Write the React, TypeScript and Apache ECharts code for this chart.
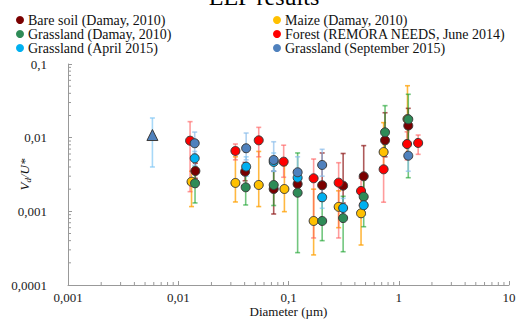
import React, { useEffect, useRef } from "react";
import * as echarts from "echarts";

const FONT = "Liberation Serif, Times New Roman, serif";

// [diameter (µm), Vd/U*, lower error, upper error]
const bareSoil = [
  [0.0143, 0.00353, 0.0028, 0.0045],
  [0.0404, 0.00345, 0.0026, 0.0046],
  [0.0734, 0.00201, 0.00092, 0.0035],
  [0.121, 0.00235, 0.0017, 0.0032],
  [0.202, 0.00226, 0.0016, 0.0062],
  [0.313, 0.00223, 0.0013, 0.0061],
  [0.481, 0.00299, 0.0016, 0.0078],
  [0.751, 0.0092, 0.0055, 0.0218],
  [1.22, 0.01456, 0.008, 0.025],
];
const maize = [
  [0.0132, 0.00252, 0.00116, 0.0035],
  [0.033, 0.00243, 0.00134, 0.0055],
  [0.0537, 0.00228, 0.00116, 0.0065],
  [0.0918, 0.00201, 0.00099, 0.0042],
  [0.169, 0.00074, 0.000256, 0.002],
  [0.285, 0.00115, 0.0006, 0.0019],
  [0.455, 0.00094, 0.000349, 0.0018],
  [0.729, 0.00638, 0.0035, 0.016],
  [1.2, 0.0179, 0.006, 0.0507],
];
const grasslandDamay = [
  [0.0142, 0.0024, 0.0013, 0.004],
  [0.0409, 0.00212, 0.00122, 0.0032],
  [0.0734, 0.00228, 0.0012, 0.0045],
  [0.121, 0.00179, 0.000275, 0.0062],
  [0.202, 0.00074, 0.0004, 0.0014],
  [0.313, 0.00081, 0.000283, 0.0016],
  [0.481, 0.00158, 0.000618, 0.0032],
  [0.751, 0.01183, 0.0065, 0.0272],
  [1.22, 0.01774, 0.00286, 0.0388],
];
const forest = [
  [0.0128, 0.0091, 0.00185, 0.0165],
  [0.033, 0.0066, 0.005, 0.0082],
  [0.0537, 0.0092, 0.0055, 0.0138],
  [0.0904, 0.00472, 0.0029, 0.0079],
  [0.169, 0.00281, 0.000435, 0.00513],
  [0.285, 0.00245, 0.000435, 0.00457],
  [0.455, 0.00189, 0.0012, 0.0028],
  [0.729, 0.00372, 0.00133, 0.0062],
  [1.19, 0.0082, 0.005, 0.012],
  [1.5, 0.00848, 0.00594, 0.01086],
];
const grasslandApril = [
  [0.0141, 0.00525, 0.0042, 0.0065],
  [0.0413, 0.00404, 0.003, 0.0055],
  [0.0734, 0.00468, 0.0035, 0.0062],
  [0.121, 0.00286, 0.0022, 0.0038],
  [0.202, 0.00155, 0.0011, 0.0022],
  [0.313, 0.00111, 0.0008, 0.0015],
  [0.481, 0.00121, 0.0009, 0.0016],
];
const grasslandSept = [
  [0.0141, 0.0084, 0.006, 0.0119],
  [0.0413, 0.00718, 0.005, 0.01156],
  [0.0734, 0.00498, 0.0035, 0.0088],
  [0.121, 0.00339, 0.0025, 0.0055],
  [0.202, 0.00426, 0.003, 0.00695],
  [1.22, 0.00569, 0.0035, 0.008],
];
const triangleGrassland = [[0.00583, 0.01086, 0.004, 0.0185]];

const xMin = 0.001;
const xMax = 10;
const yMin = 0.0001;
const yMax = 0.1;

const seriesDefs = [
  { name: "Maize (Damay, 2010)", data: maize, color: "#ffc000", err: "rgba(255,160,0,0.75)", symbol: "circle" },
  { name: "Bare soil (Damay, 2010)", data: bareSoil, color: "#7a0000", err: "rgba(140,20,20,0.7)", symbol: "circle" },
  { name: "Forest (REMORA NEEDS, June 2014)", data: forest, color: "#ff0000", err: "rgba(255,90,90,0.6)", symbol: "circle" },
  { name: "Grassland (Damay, 2010)", data: grasslandDamay, color: "#2e8b57", err: "rgba(20,160,40,0.6)", symbol: "circle" },
  { name: "Grassland (April 2015)", data: grasslandApril, color: "#00b0f0", err: "rgba(110,190,240,0.6)", symbol: "circle" },
  { name: "Grassland (September 2015)", data: grasslandSept, color: "#4f81bd", err: "rgba(140,190,235,0.7)", symbol: "circle" },
  { name: "Grassland (triangle)", data: triangleGrassland, color: "#4f81bd", err: "rgba(130,200,245,0.7)", symbol: "triangle" },
];

const legendLeft = ["Bare soil (Damay, 2010)", "Grassland (Damay, 2010)", "Grassland (April 2015)"];
const legendRight = ["Maize (Damay, 2010)", "Forest (REMORA NEEDS, June 2014)", "Grassland (September 2015)"];

const xTickLabels = ["0,001", "0,01", "0,1", "1", "10"];
const yTickLabels = ["0,0001", "0,001", "0,01", "0,1"];

const minorX: number[][] = [];
for (let e = -3; e < 1; e++) for (let k = 2; k <= 9; k++) minorX.push([k * Math.pow(10, e), yMin]);
const minorY: number[][] = [];
for (let e = -4; e < -1; e++) for (let k = 2; k <= 9; k++) minorY.push([xMin, k * Math.pow(10, e)]);

function fmt(v: number, labels: string[], min: number) {
  const i = Math.round(Math.log10(v) - Math.log10(min));
  return labels[i] ?? String(v).replace(".", ",");
}

export default function App() {
  const ref = useRef<HTMLDivElement>(null);
  useEffect(() => {
    if (!ref.current) return;
    const chart = echarts.init(ref.current, undefined, { renderer: "svg" });
    const series: any[] = [];
    seriesDefs.forEach((s) => {
      series.push({
        type: "custom",
        name: "err " + s.name,
        z: 1,
        clip: false,
        encode: { x: 0, y: [1, 2] },
        data: s.data.map((d) => [d[0], d[2], d[3]]),
        renderItem: (params: any, api: any) => {
          const x = api.value(0);
          const lo = api.coord([x, api.value(1)]);
          const hi = api.coord([x, api.value(2)]);
          const w = 2.5;
          const st = { stroke: s.err, lineWidth: 1.6 };
          return {
            type: "group",
            children: [
              { type: "line", shape: { x1: lo[0], y1: lo[1], x2: hi[0], y2: hi[1] }, style: st },
              { type: "line", shape: { x1: lo[0] - w, y1: lo[1], x2: lo[0] + w, y2: lo[1] }, style: st },
              { type: "line", shape: { x1: hi[0] - w, y1: hi[1], x2: hi[0] + w, y2: hi[1] }, style: st },
            ],
          };
        },
      });
    });
    seriesDefs.forEach((s) => {
      series.push({
        type: "scatter",
        name: s.name,
        z: 3,
        symbol: s.symbol,
        symbolSize: s.symbol === "triangle" ? 11 : 9,
        itemStyle: { color: s.color, borderColor: "#3a3a3a", borderWidth: 1, opacity: 1 },
        data: s.data.map((d) => [d[0], d[1]]),
      });
    });
    const tickStyle = { color: "#999", width: 1 };
    series.push({
      type: "custom",
      name: "minorX",
      z: 2,
      clip: false,
      data: minorX,
      renderItem: (params: any, api: any) => {
        const p = api.coord([api.value(0), api.value(1)]);
        return { type: "line", shape: { x1: p[0], y1: p[1], x2: p[0], y2: p[1] - 3 }, style: { stroke: "#999", lineWidth: 1 } };
      },
    });
    series.push({
      type: "custom",
      name: "minorY",
      z: 2,
      clip: false,
      data: minorY,
      renderItem: (params: any, api: any) => {
        const p = api.coord([api.value(0), api.value(1)]);
        return { type: "line", shape: { x1: p[0], y1: p[1], x2: p[0] + 3, y2: p[1] }, style: { stroke: "#999", lineWidth: 1 } };
      },
    });

    const legendBase = {
      orient: "vertical",
      top: 13,
      itemWidth: 8,
      itemHeight: 8,
      itemGap: 0,
      icon: "circle",
      itemStyle: { borderWidth: 0 },
      textStyle: { fontFamily: FONT, fontSize: 14, color: "#111", lineHeight: 14, padding: [0, 0, 0, -1] },
      padding: 0,
    };

    chart.setOption({
      animation: false,
      backgroundColor: "#fff",
      graphic: [
        {
          type: "text",
          x: 264,
          y: 9,
          style: { text: "EEP results", font: `24px ${FONT}`, fill: "#000", align: "center", verticalAlign: "bottom" },
        },
      ],
      legend: [
        { ...legendBase, left: 16, data: legendLeft },
        { ...legendBase, left: 273, data: legendRight },
      ],
      grid: { left: 68, right: 7, top: 64, bottom: 35, containLabel: false, outerBoundsMode: "none" },
      xAxis: {
        type: "log",
        logBase: 10,
        min: xMin,
        max: xMax,
        name: "Diameter (µm)",
        nameLocation: "middle",
        nameGap: 20,
        nameMoveOverlap: false,
        nameTextStyle: { fontFamily: FONT, fontSize: 13, color: "#111" },
        axisLine: { lineStyle: tickStyle },
        axisTick: { inside: true, length: 4, lineStyle: tickStyle },
        splitLine: { show: false },
        axisLabel: {
          fontFamily: FONT,
          fontSize: 13,
          color: "#222",
          margin: 6,
          formatter: (v: number) => fmt(v, xTickLabels, xMin),
        },
      },
      yAxis: {
        type: "log",
        logBase: 10,
        min: yMin,
        max: yMax,
        name: "{i|V}{s|d}{i|/U*}",
        nameLocation: "middle",
        nameGap: 36,
        nameMoveOverlap: false,
        nameTextStyle: {
          fontFamily: FONT,
          fontSize: 13,
          rich: {
            i: { fontFamily: FONT, fontStyle: "italic", fontSize: 13, color: "#111" },
            s: { fontFamily: FONT, fontStyle: "italic", fontSize: 9, color: "#111", padding: [6, 0, 0, 0] },
          },
        },
        axisLine: { show: true, lineStyle: tickStyle },
        axisTick: { show: true, inside: true, length: 4, lineStyle: tickStyle },
        splitLine: { show: false },
        axisLabel: {
          fontFamily: FONT,
          fontSize: 13,
          color: "#222",
          margin: 21,
          formatter: (v: number) => fmt(v, yTickLabels, yMin),
        },
      },
      series,
    });
    return () => chart.dispose();
  }, []);
  return <div ref={ref} style={{ width: 516, height: 320, position: "absolute", left: 0, top: 0 }} />;
}
